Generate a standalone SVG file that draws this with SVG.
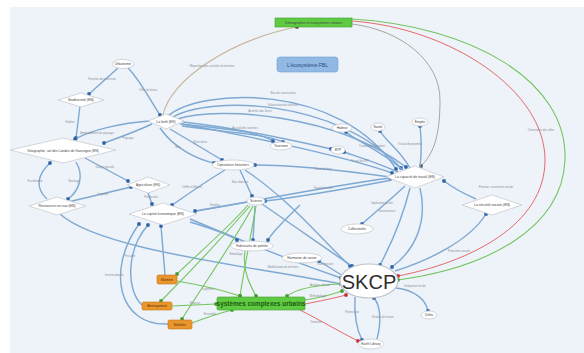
<svg xmlns="http://www.w3.org/2000/svg" width="584" height="353" viewBox="0 0 584 353">
<style>
.nd{fill:#fff;stroke:#c9ccd2;stroke-width:0.8}
.t{font-family:"Liberation Sans",Arial,sans-serif;font-size:3.4px;fill:#444;text-anchor:middle;dominant-baseline:central}
.lb{font-family:"Liberation Sans",Arial,sans-serif;font-size:2.8px;fill:#8a8f98;text-anchor:middle}
.b{fill:none;stroke:#7ea9d3;stroke-width:1.4;marker-end:url(#db)}
.g{fill:none;stroke:#72c65e;stroke-width:1.1;marker-end:url(#dg)}
.r{fill:none;stroke:#e46a6a;stroke-width:1;marker-end:url(#dr)}
.gr{fill:none;stroke:#aaa6a0;stroke-width:1;marker-end:url(#dk)}
.tan{fill:none;stroke:#c7b497;stroke-width:1.1;marker-end:url(#dk)}
.or{fill:#e9962c;stroke:#c7771a;stroke-width:0.6}
</style>
<defs>
<marker id="db" markerUnits="userSpaceOnUse" markerWidth="5" markerHeight="5" refX="2.5" refY="2.5"><rect x="0.8" y="0.8" width="3.4" height="3.4" rx="0.8" fill="#2d62a6"/></marker>
<marker id="dg" markerUnits="userSpaceOnUse" markerWidth="5" markerHeight="5" refX="2.5" refY="2.5"><rect x="0.8" y="0.8" width="3.4" height="3.4" rx="0.8" fill="#3f9a2c"/></marker>
<marker id="dr" markerUnits="userSpaceOnUse" markerWidth="5" markerHeight="5" refX="2.5" refY="2.5"><rect x="0.8" y="0.8" width="3.4" height="3.4" rx="0.8" fill="#c62f2f"/></marker>
<marker id="dk" markerUnits="userSpaceOnUse" markerWidth="5" markerHeight="5" refX="2.5" refY="2.5"><rect x="0.8" y="0.8" width="3.4" height="3.4" rx="0.8" fill="#555"/></marker>
</defs>
<rect width="584" height="353" fill="#fff"/>
<rect x="10" y="7" width="574" height="346" fill="#eef2f9"/>

<g id="connectors">
<path class="tan" d="M163,115 C170,80 230,40 297,27"/>
<path class="gr" d="M352,24 C400,30 440,60 440,100 C440,140 432,155 421,166"/>
<path class="r" d="M352,21 C450,28 545,90 545,160 C545,225 470,262 398,276"/>
<path class="g" d="M352,19 C470,26 568,80 565,160 C562,230 485,268 398,280"/>
<path class="b" d="M168,116 C200,88 340,82 396,169"/>
<path class="b" d="M173,117 C210,96 335,98 401,168"/>
<path class="b" d="M177,119 C220,106 335,114 406,167"/>
<path class="b" d="M182,124 C260,138 350,158 392,173"/>
<path class="b" d="M180,124 C220,128 260,132 273,141"/>
<path class="b" d="M182,126 C225,132 265,134 283,142"/>
<path class="b" d="M183,122 C240,128 300,142 331,149"/>
<path class="b" d="M128,68 C140,80 150,100 160,115"/>
<path class="b" d="M118,68 L89,94"/>
<path class="b" d="M80,106 L76,138"/>
<path class="b" d="M150,121 C120,123 92,130 75,139"/>
<path class="b" d="M152,124 C135,132 118,138 104,143"/>
<path class="b" d="M85,158 L128,181"/>
<path class="b" d="M47,199 C35,188 37,175 50,163"/>
<path class="b" d="M76,162 C84,175 80,190 68,199"/>
<path class="b" d="M68,202 L131,187"/>
<path class="b" d="M148,193 L152,204"/>
<path class="b" d="M170,129 L222,160"/>
<path class="b" d="M160,128 C175,150 200,160 214,163"/>
<path class="b" d="M240,170 L252,196"/>
<path class="b" d="M225,170 C200,185 180,200 172,205"/>
<path class="b" d="M247,202 L195,211"/>
<path class="b" d="M390,177 C340,170 290,165 255,165"/>
<path class="b" d="M403,170 C380,150 355,140 346,132"/>
<path class="b" d="M410,168 C400,150 385,140 380,131"/>
<path class="b" d="M420,167 C422,150 421,135 420,126"/>
<path class="b" d="M398,172 C370,160 352,155 344,152"/>
<path class="b" d="M197,211 C260,200 330,186 390,178"/>
<path class="b" d="M392,180 C340,190 290,198 265,201"/>
<path class="b" d="M405,186 C390,200 372,215 362,224"/>
<path class="b" d="M410,188 C402,220 388,250 380,265"/>
<path class="b" d="M420,188 C428,222 415,250 392,267"/>
<path class="b" d="M476,199 C462,193 452,187 444,181"/>
<path class="b" d="M395,271 C430,260 470,240 486,214"/>
<path class="b" d="M396,288 C415,290 426,300 428,311"/>
<path class="b" d="M355,297 C354,315 357,330 362,340"/>
<path class="b" d="M377,339 C382,320 380,305 374,298"/>
<path class="b" d="M343,276 L319,261"/>
<path class="b" d="M190,219 C240,240 300,264 341,278"/>
<path class="b" d="M60,214 C100,250 250,266 341,284"/>
<path class="b" d="M245,170 C290,200 322,240 350,266"/>
<path class="b" d="M262,204 C300,230 332,253 352,266"/>
<path class="b" d="M190,222 C210,228 228,234 237,240"/>
<path class="b" d="M255,206 L253,240"/>
<path class="b" d="M300,205 C285,220 272,232 268,240"/>
<path class="b" d="M165,275 L161,226"/>
<path class="b" d="M142,305 C126,290 126,250 148,225"/>
<path class="b" d="M168,324 C118,326 106,270 139,224"/>
<path class="g" d="M250,206 C220,240 182,280 161,301"/>
<path class="g" d="M253,206 C235,240 200,290 182,319"/>
<path class="g" d="M256,206 C250,240 244,270 240,296"/>
<path class="g" d="M248,205 C228,228 200,252 177,274"/>
<path class="g" d="M177,281 C200,285 225,291 240,296"/>
<path class="g" d="M172,306 L216,304"/>
<path class="g" d="M192,323 C205,318 220,313 232,310"/>
<path class="g" d="M245,251 C242,270 250,285 256,296"/>
<path class="g" d="M340,284 C318,285 298,288 287,296"/>
<path class="g" d="M305,300 C320,298 330,295 342,291"/>
<path class="r" d="M305,304 C320,301 335,298 346,295"/>
<path class="r" d="M300,310 C320,320 340,332 358,341"/>
</g>

<g id="labels">
<text class="lb" x="212" y="67">Répartition des activités du territoire</text>
<text class="lb" x="102" y="80">Fonction de protection</text>
<text class="lb" x="148" y="91">Offre de loisirs</text>
<text class="lb" x="70" y="123">Habitat</text>
<text class="lb" x="97" y="134">Aménagement du paysage</text>
<text class="lb" x="128" y="139">Paysage</text>
<text class="lb" x="105" y="168">Usage agricole</text>
<text class="lb" x="35" y="182">Ecoulement</text>
<text class="lb" x="74" y="182">Stockage</text>
<text class="lb" x="103" y="195">Irrigation</text>
<text class="lb" x="151" y="198">Production</text>
<text class="lb" x="178" y="148">Bois</text>
<text class="lb" x="200" y="143">Sylviculture</text>
<text class="lb" x="240" y="183">Bois d'œuvre</text>
<text class="lb" x="192" y="188">Chiffre d'affaires</text>
<text class="lb" x="215" y="206">Emplois</text>
<text class="lb" x="283" y="94">Bois de construction</text>
<text class="lb" x="283" y="106">Valorisation des déchets</text>
<text class="lb" x="260" y="112">Activités des loisirs</text>
<text class="lb" x="245" y="129">Accueil des touristes</text>
<text class="lb" x="372" y="147">Travail d'équipement</text>
<text class="lb" x="410" y="145">Travail de proximité</text>
<text class="lb" x="360" y="162">Travail de BTP</text>
<text class="lb" x="323" y="170">Travail de bois</text>
<text class="lb" x="323" y="189">Travail forestier</text>
<text class="lb" x="382" y="204">Implication locale</text>
<text class="lb" x="387" y="212">Gouvernance</text>
<text class="lb" x="496" y="188">Pension, couverture sociale</text>
<text class="lb" x="541" y="131">Croissance des villes</text>
<text class="lb" x="459" y="252">Protection sociale</text>
<text class="lb" x="415" y="287">Intégration locale</text>
<text class="lb" x="352" y="313">Partenariat</text>
<text class="lb" x="383" y="318">Études de terrain</text>
<text class="lb" x="325" y="265">Transmission</text>
<text class="lb" x="283" y="268">Modélisation du territoire</text>
<text class="lb" x="236" y="255">Emballage</text>
<text class="lb" x="114" y="276">Investissement</text>
<text class="lb" x="130" y="257">Fiscalité</text>
<text class="lb" x="208" y="290">Logement</text>
<text class="lb" x="195" y="304">Espaces</text>
<text class="lb" x="210" y="315">Ensemble</text>
<text class="lb" x="320" y="286">Analyse urbaine</text>
<text class="lb" x="318" y="297">Méthodologie</text>
<text class="lb" x="316" y="323">Données</text>
</g>

<g id="n_top"><rect x="275" y="18" width="77" height="9" fill="#5fcb42" stroke="#3f9e2b" stroke-width="0.6"/><text class="t" x="313.5" y="22.5" font-size="3.6">Démographie et écosystèmes urbains</text></g>
<g id="n_fbl"><rect x="277" y="57" width="61" height="15" rx="3" fill="#91b9e4" stroke="#6f9fd2" stroke-width="0.6"/><text class="t" x="307.5" y="64.5" style="font-size:5px;fill:#27477c">L'écosystème FBL</text></g>
<g id="n_urb"><ellipse class="nd" cx="123" cy="64" rx="11" ry="4.5"/><text class="t" x="123" y="64">Urbanisme</text></g>
<g id="n_bio"><polygon class="nd" points="58,100 81,93 104,100 81,107"/><text class="t" x="81" y="100">Biodiversité (EN)</text></g>
<g id="n_foret"><polygon class="nd" points="148,121 166,114 184,121 166,129"/><text class="t" x="166" y="121.5">La forêt (EN)</text></g>
<g id="n_geo"><polygon class="nd" points="10,150 63,138 116,150 63,163"/><text class="t" x="63" y="150.5">Géographie, sol des Landes de Gascogne (EN)</text></g>
<g id="n_agri"><polygon class="nd" points="127,185 148,177 170,185 148,193"/><text class="t" x="148" y="185">Agriculture (EN)</text></g>
<g id="n_eau"><polygon class="nd" points="29,206 57,197 86,206 57,215"/><text class="t" x="57" y="206">Ressources en eau (EN)</text></g>
<g id="n_cap"><polygon class="nd" points="129,214 163,203 197,214 163,225"/><text class="t" x="163" y="214">Le capital économique (EN)</text></g>
<g id="n_tour"><ellipse class="nd" cx="281" cy="146" rx="11" ry="4"/><text class="t" x="281" y="146">Tourisme</text></g>
<g id="n_op"><ellipse class="nd" cx="233" cy="165" rx="21" ry="5"/><text class="t" x="233" y="165">Opérateurs forestiers</text></g>
<g id="n_sci"><ellipse class="nd" cx="256" cy="201" rx="9" ry="4"/><text class="t" x="256" y="201">Scieries</text></g>
<g id="n_fab"><ellipse class="nd" cx="252" cy="246" rx="21" ry="5"/><text class="t" x="252" y="246">Fabricants de palette</text></g>
<g id="n_harm"><ellipse class="nd" cx="302" cy="258" rx="20" ry="5"/><text class="t" x="302" y="258">Harmonie de savoir</text></g>
<g id="n_hab"><ellipse class="nd" cx="342" cy="128" rx="10" ry="4"/><text class="t" x="342" y="128">Habitat</text></g>
<g id="n_sante"><ellipse class="nd" cx="378" cy="127" rx="7" ry="4"/><text class="t" x="378" y="127">Santé</text></g>
<g id="n_emploi"><ellipse class="nd" cx="420" cy="122" rx="8" ry="4"/><text class="t" x="420" y="122">Emploi</text></g>
<g id="n_btp"><ellipse class="nd" cx="338" cy="150" rx="7" ry="4"/><text class="t" x="338" y="150">BTP</text></g>
<g id="n_captrav"><polygon class="nd" points="386,177 415,166 444,177 415,188"/><text class="t" x="415" y="177">La capacité de travail (EN)</text></g>
<g id="n_secu"><polygon class="nd" points="462,205 492,195 522,205 492,215"/><text class="t" x="492" y="205">La sécurité sociale (EN)</text></g>
<g id="n_coll"><ellipse class="nd" cx="357" cy="229" rx="16" ry="5"/><text class="t" x="357" y="229">Collectivités</text></g>
<g id="n_skcp"><ellipse cx="369" cy="281" rx="29" ry="17" fill="#fff" stroke="#bfc3ca" stroke-width="1.2"/><text class="t" x="369" y="282" style="font-size:20px;fill:#2e2e2e">SKCP</text></g>
<g id="n_sys"><rect x="217" y="297" width="88" height="13" rx="1.5" fill="#5fcb42" stroke="#3f9e2b" stroke-width="0.6"/><text class="t" x="261" y="303.5" style="font-size:6.4px;font-weight:bold;fill:#1d5a0e">systèmes complexes urbains</text></g>
<g id="n_bat"><rect class="or" x="157" y="275" width="20" height="9" rx="1.5"/><text class="t" x="167" y="279.5" style="font-size:3px;fill:#5a2e00">Bâtiment</text></g>
<g id="n_amen"><rect class="or" x="142" y="302" width="30" height="8" rx="1.5"/><text class="t" x="157" y="306" style="font-size:3px;fill:#5a2e00">Aménagement</text></g>
<g id="n_mob"><rect class="or" x="168" y="320" width="24" height="9" rx="1.5"/><text class="t" x="180" y="324.5" style="font-size:3px;fill:#5a2e00">Mobilités</text></g>
<g id="n_earth"><ellipse class="nd" cx="371" cy="344" rx="13" ry="5"/><text class="t" x="371" y="344">Earth Library</text></g>
<g id="n_delta"><ellipse class="nd" cx="429" cy="315" rx="8" ry="4"/><text class="t" x="429" y="315">Delta</text></g>
</svg>
